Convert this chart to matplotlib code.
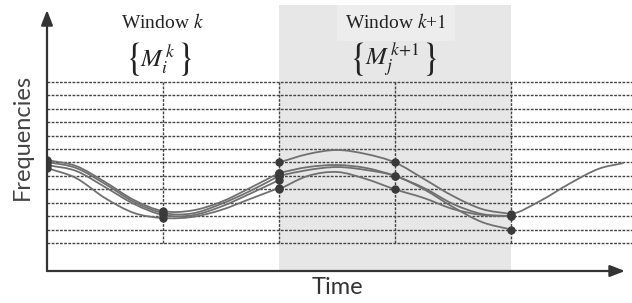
import numpy as np
import matplotlib.pyplot as plt
from matplotlib.path import Path
from matplotlib.patches import PathPatch

plt.rcParams['mathtext.fontset'] = 'stix'

# time axis: window borders at t = 1..4, frequency grid levels 1..13
t_win_k = [0, 0.25, 0.5, 0.75, 1, 1.25, 1.5, 1.75, 2]
win_k_curves = [
    [7.18, 6.74, 5.55, 4.20, 3.38, 3.42, 4.06, 5.10, 6.22],
    [7.04, 6.59, 5.40, 4.06, 3.24, 3.20, 3.91, 4.87, 6.00],
    [6.81, 6.37, 5.17, 3.91, 3.09, 3.06, 3.71, 4.67, 5.69],
    [6.59, 5.84, 4.35, 3.24, 2.86, 2.94, 3.46, 4.28, 5.10],
]
t_win_k1 = [2, 2.25, 2.5, 2.75, 3, 3.25, 3.5, 3.75, 4]
win_k1_curves = [
    [7.00, 7.63, 7.93, 7.63, 7.00, 5.77, 4.50, 3.53, 3.16],
    [6.22, 6.66, 6.81, 6.59, 6.00, 5.10, 3.91, 3.16, 3.00],
    [6.00, 6.44, 6.66, 6.44, 6.00, 5.00, 3.68, 2.56, 2.00],
    [5.00, 6.00, 6.29, 5.77, 5.00, 4.35, 3.53, 3.09, 3.00],
]
# the top curve keeps going after window k+1
t_tail = [3.75, 4, 4.25, 4.5, 4.75, 4.97]
tail_vals = [3.53, 3.16, 4.13, 5.40, 6.51, 6.96]

grid_levels = list(range(1, 14))
window_borders = [1, 2, 3, 4]


def smooth_line(ax, xs, ys, skip_first=False, **kw):
    # Catmull-Rom through the read points, drawn as cubic Bezier segments
    p = np.column_stack([xs, ys]).astype(float)
    ext = np.vstack([2 * p[0] - p[1], p, 2 * p[-1] - p[-2]])
    start = 1 if skip_first else 0
    verts = [p[start]]
    codes = [Path.MOVETO]
    for i in range(start, len(p) - 1):
        c1 = ext[i + 1] + (ext[i + 2] - ext[i]) / 6
        c2 = ext[i + 2] - (ext[i + 3] - ext[i + 1]) / 6
        verts += [c1, c2, p[i + 1]]
        codes += [Path.CURVE4] * 3
    ax.add_patch(PathPatch(Path(verts, codes), fill=False, **kw))


fig = plt.figure(figsize=(6.32, 3.03), dpi=100)
ax = fig.add_axes([47 / 632, 1 - 271 / 303, 585 / 632, 266 / 303])
ax.set_xlim(0, 585 / 116)
ax.set_ylim(1 - 28 / 13.42, 1 + 238 / 13.42)
ax.axis('off')

# shaded window k+1
ax.axvspan(2, 4, color='#e7e7e7', zorder=0, lw=0)

# dashed grid
for lv in grid_levels:
    ax.plot([0, 585 / 116], [lv, lv], color='#444444', lw=1.0,
            ls=(0, (2, 1)), zorder=1)
for b in window_borders:
    ax.plot([b, b], [1, 13], color='#444444', lw=1.0, ls=(0, (2, 1)), zorder=1)

# curves
line_kw = dict(edgecolor='#707070', lw=1.3, zorder=3)
for c in win_k_curves:
    smooth_line(ax, t_win_k, c, **line_kw)
    ax.plot(t_win_k[::4], c[::4], 'o', color='#3a3a3a', ms=5, zorder=4)
for c in win_k1_curves:
    smooth_line(ax, t_win_k1, c, **line_kw)
    ax.plot(t_win_k1[::4], c[::4], 'o', color='#3a3a3a', ms=5, zorder=4)
smooth_line(ax, t_tail, tail_vals, skip_first=True, **line_kw)

# axis arrows
arrow = dict(arrowstyle='-|>,head_length=0.9,head_width=0.35',
             color='#333333', lw=1.6, shrinkA=0, shrinkB=0)
ax.annotate('', xy=(0, 0.981), xytext=(0, 0), xycoords='axes fraction',
            arrowprops=arrow, zorder=5)
ax.annotate('', xy=(0.988, 0), xytext=(0, 0), xycoords='axes fraction',
            arrowprops=arrow, zorder=5)


def lvl(py):
    return 1 + (243 - py) / 13.42


def tx(px):
    return (px - 47) / 116


# window labels
ax.text(1, lvl(22), 'Window $k$', family='Liberation Serif',
        fontsize=14, ha='center', va='center', color='#222222')
ax.text(tx(396), lvl(23), 'Window $k$+$1$', family='Liberation Serif',
        fontsize=14, ha='center', va='center', color='#222222',
        bbox=dict(facecolor='#ededed', edgecolor='none', pad=6))
# model sets with tall braces
brace_kw = dict(fontsize=27, ha='center', va='center', color='#222222')
ax.text(tx(133), lvl(59), r'$\{$', **brace_kw)
ax.text(tx(184), lvl(59), r'$\}$', **brace_kw)
ax.text(tx(158), lvl(60), r'$M_i^{\,k}$', fontsize=18, ha='center',
        va='center', color='#222222')
ax.text(tx(357), lvl(59), r'$\{$', **brace_kw)
ax.text(tx(429), lvl(59), r'$\}$', **brace_kw)
ax.text(tx(392), lvl(60), r'$M_j^{\,k\mathrm{+1}}$', fontsize=18, ha='center',
        va='center', color='#222222')

fig.text(22 / 632, 1 - 137 / 303, 'Frequencies', family='Lato', fontsize=17,
         rotation=90, ha='center', va='center', color='#444444')
fig.text(337 / 632, 1 - 288 / 303, 'Time', family='Lato', fontsize=17,
         ha='center', va='center', color='#333333')

fig.savefig('out.png', dpi=100)
